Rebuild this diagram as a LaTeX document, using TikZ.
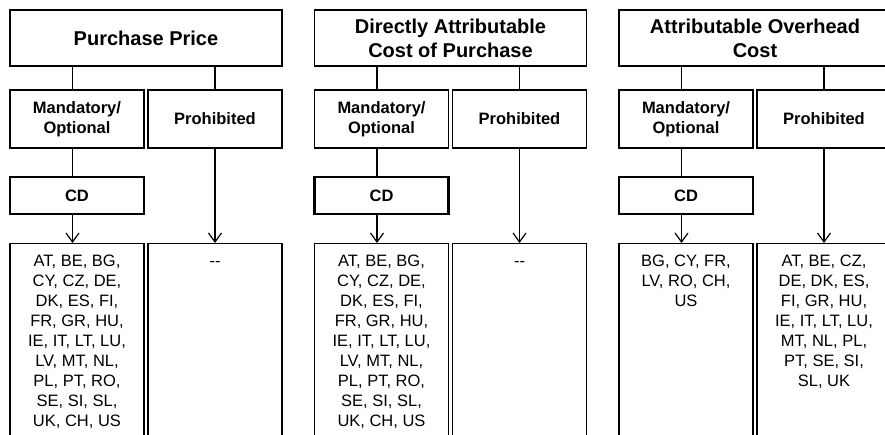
\documentclass[tikz,border=0pt]{standalone}
\usepackage{fontspec}
\setmainfont{Liberation Sans}
\usetikzlibrary{arrows.meta}
\tikzset{
  box/.style={draw, line width=1.2pt, inner sep=0pt, align=center, font=\bfseries\fontsize{16.5}{20}\selectfont},
  titlebox/.style={box, font=\bfseries\fontsize{20}{24}\selectfont, minimum width=272pt, minimum height=56pt},
  midbox/.style={box, minimum width=134pt, minimum height=58pt},
  cdbox/.style={box, line width=2.5pt, minimum width=134pt, minimum height=37pt},
  listbox/.style={draw, line width=1.2pt, inner sep=0pt, minimum width=134pt, minimum height=220pt, anchor=north},
  listtext/.style={anchor=north, inner sep=0pt, align=center, font=\fontsize{16.5}{20}\selectfont},
  conn/.style={line width=1.2pt},
  arr/.style={conn, -{Straight Barb[length=9pt,width=13pt,line width=1.2pt]}}
}
\newcommand\drawcol[5]{%
  \node[titlebox] (top#2) at (#1+136, 38) {#3};
  \node[midbox] (man#2) at (#1+67, 119) {Mandatory/\\Optional};
  \node[midbox] (pro#2) at (#1+205, 119) {Prohibited};
  \node[cdbox] (cd#2) at (#1+67, 195.5) {CD};
  \node[listbox] (ll#2) at (#1+67, 243) {};
  \node[listbox] (rl#2) at (#1+205, 243) {};
  \node[listtext] (lt#2) at (#1+67, 255) {#4};
  \node[listtext] (rt#2) at (#1+205, 255) {#5};
  \coordinate (lx#2) at (#1+62.5, 0);
  \draw[conn] (top#2.south -| lx#2) -- (man#2.north -| lx#2);
  \draw[conn] (man#2.south -| lx#2) -- (cd#2.north -| lx#2);
  \draw[arr] (cd#2.south -| lx#2) -- (ll#2.north -| lx#2);
  \draw[conn] (top#2.south -| pro#2.north) -- (pro#2.north);
  \draw[arr] (pro#2.south) -- (rl#2.north);
}
\begin{document}
\begin{tikzpicture}[x=1pt, y=-1pt]
  \clip (0,0) rectangle (885,434);
  \drawcol{10}{a}{Purchase Price}
    {AT, BE, BG,\\CY, CZ, DE,\\DK, ES, FI,\\FR, GR, HU,\\IE, IT, LT, LU,\\LV, MT, NL,\\PL, PT, RO,\\SE, SI, SL,\\UK, CH, US}
    {\vphantom{A}\mbox{-}\mbox{-}}
  \drawcol{314.5}{b}{Directly Attributable\\Cost of Purchase}
    {AT, BE, BG,\\CY, CZ, DE,\\DK, ES, FI,\\FR, GR, HU,\\IE, IT, LT, LU,\\LV, MT, NL,\\PL, PT, RO,\\SE, SI, SL,\\UK, CH, US}
    {\vphantom{A}\mbox{-}\mbox{-}}
  \drawcol{619}{c}{Attributable Overhead\\Cost}
    {BG, CY, FR,\\LV, RO, CH,\\US}
    {AT, BE, CZ,\\DE, DK, ES,\\FI, GR, HU,\\IE, IT, LT, LU,\\MT, NL, PL,\\PT, SE, SI,\\SL, UK}
\end{tikzpicture}
\end{document}
